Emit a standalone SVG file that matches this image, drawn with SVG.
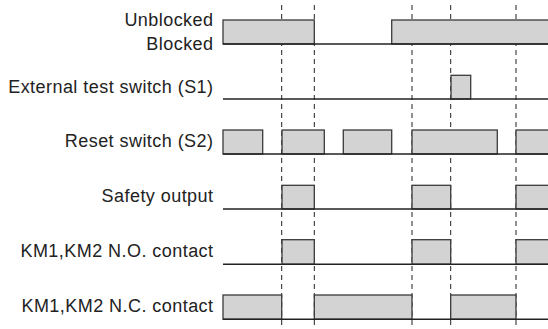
<svg xmlns="http://www.w3.org/2000/svg" width="548" height="329" viewBox="0 0 548 329">
<style>
text{font-family:"Liberation Sans",Arial,sans-serif;font-size:18px;letter-spacing:0.45px;fill:#222;text-anchor:end}
.p{fill:#d3d3d3;stroke:#3a3a3a;stroke-width:1.3}
.b{stroke:#222;stroke-width:1.4;fill:none}
.d{stroke:#222;stroke-width:1;stroke-dasharray:5 4;fill:none}
</style>
<rect width="548" height="329" fill="#fff"/>
<g id="guides">
<line class="d" x1="281.7" y1="5" x2="281.7" y2="329"/>
<line class="d" x1="314.3" y1="5" x2="314.3" y2="329"/>
<line class="d" x1="412" y1="5" x2="412" y2="329"/>
<line class="d" x1="450.7" y1="5" x2="450.7" y2="329"/>
<line class="d" x1="516" y1="5" x2="516" y2="329"/>
</g>
<g id="blocked">
<text x="213.5" y="26">Unblocked</text>
<text x="213.5" y="50">Blocked</text>
<rect class="p" x="223" y="20" width="91.3" height="24"/>
<rect class="p" x="391.7" y="20" width="158" height="24"/>
<line class="b" x1="223" y1="44" x2="548" y2="44"/>
</g>
<g id="s1">
<text x="213.5" y="92.7">External test switch (S1)</text>
<rect class="p" x="451" y="75.3" width="19.7" height="23.7"/>
<line class="b" x1="223" y1="99" x2="548" y2="99"/>
</g>
<g id="s2">
<text x="213.5" y="146.7">Reset switch (S2)</text>
<rect class="p" x="223" y="130" width="39.7" height="24"/>
<rect class="p" x="282" y="130" width="42.3" height="24"/>
<rect class="p" x="343.3" y="130" width="48.4" height="24"/>
<rect class="p" x="412" y="130" width="85.3" height="24"/>
<rect class="p" x="516" y="130" width="34" height="24"/>
<line class="b" x1="223" y1="154" x2="548" y2="154"/>
</g>
<g id="safety">
<text x="213.5" y="201.7">Safety output</text>
<rect class="p" x="282" y="185.3" width="32.3" height="23.7"/>
<rect class="p" x="412" y="185.3" width="38.7" height="23.7"/>
<rect class="p" x="516" y="185.3" width="34" height="23.7"/>
<line class="b" x1="223" y1="209" x2="548" y2="209"/>
</g>
<g id="no">
<text x="213.5" y="256.7">KM1,KM2 N.O. contact</text>
<rect class="p" x="282" y="239.7" width="32.3" height="24.6"/>
<rect class="p" x="412" y="239.7" width="38.7" height="24.6"/>
<rect class="p" x="516" y="239.7" width="34" height="24.6"/>
<line class="b" x1="223" y1="264.3" x2="548" y2="264.3"/>
</g>
<g id="nc">
<text x="213.5" y="311.7">KM1,KM2 N.C. contact</text>
<rect class="p" x="223" y="295" width="58.7" height="24.3"/>
<rect class="p" x="314.3" y="295" width="97.7" height="24.3"/>
<rect class="p" x="450.7" y="295" width="65.3" height="24.3"/>
<line class="b" x1="223" y1="319.3" x2="548" y2="319.3"/>
</g>
</svg>
